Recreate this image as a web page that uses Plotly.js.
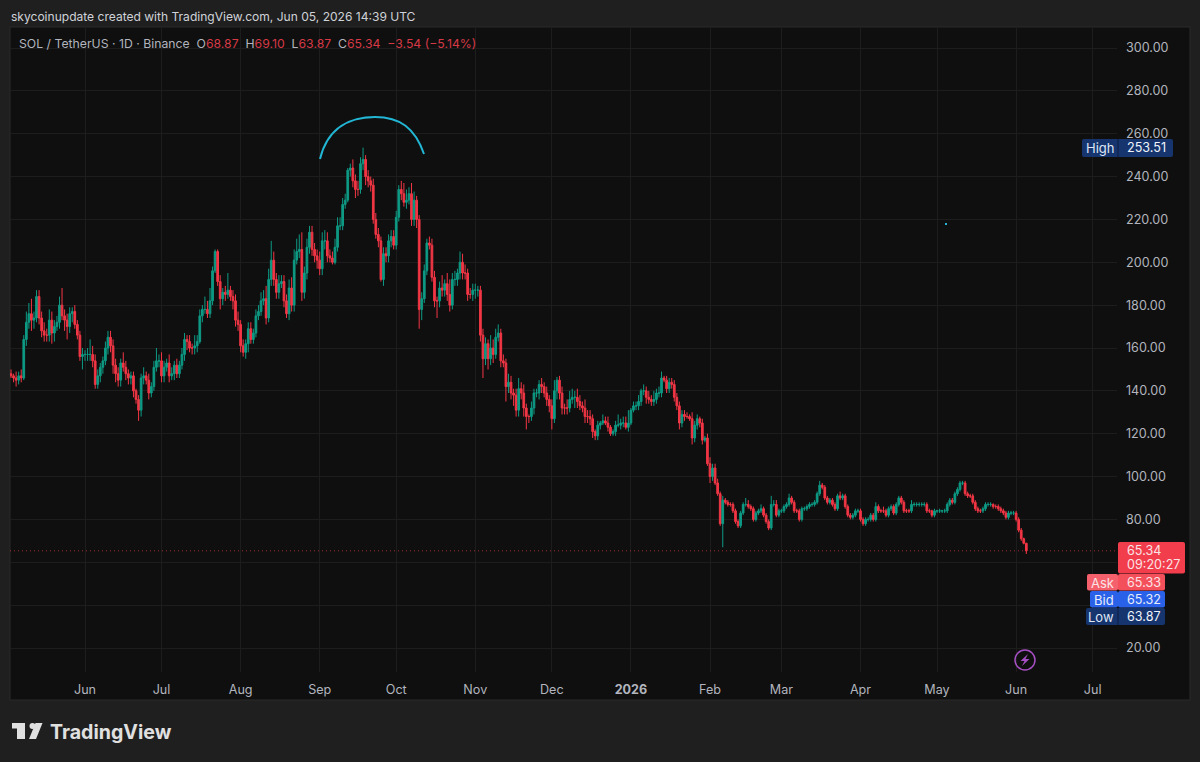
<!DOCTYPE html>
<html><head><meta charset="utf-8">
<script src="https://cdn.plot.ly/plotly-3.0.1.min.js"></script>
<style>html,body{margin:0;padding:0;background:#1f1f1f}#c{width:1200px;height:762px}</style>
</head><body><div id="c"></div>
<script>
const firstDay = "2025-05-03";
const closes = [
147,146,145,147,146,164,172,176,173,174, 184,174,168,166,166,173,167,170,172,180,
175,173,170,176,177,171,166,156,157,157, 157,157,154,143,147,151,154,160,165,161,
152,148,145,153,151,148,146,147,140,136, 131,146,147,145,139,142,151,154,154,147,
151,153,147,148,152,148,152,157,164,163, 160,160,161,163,175,178,178,176,182,196,
205,191,183,186,185,187,184,182,173,171, 161,158,162,169,164,167,175,177,182,183,
174,192,201,192,186,190,191,182,176,188, 180,201,205,206,186,195,207,214,206,203,
201,197,210,210,203,202,200,207,217,217, 227,229,243,244,238,234,234,246,248,240,
238,236,220,213,210,192,204,203,210,212, 208,221,234,232,228,229,232,220,229,220,
178,183,196,209,208,193,182,182,188,187, 190,185,180,192,192,195,200,195,195,185,
185,187,187,187,166,155,162,155,160,157, 165,167,154,153,142,144,139,138,131,141,
139,132,128,128,132,139,139,143,142,139, 136,133,127,140,145,139,132,132,132,136,
137,137,135,133,132,128,128,127,121,119, 124,125,126,125,123,120,121,124,124,125,
125,123,125,131,133,133,135,140,140,137, 136,135,136,139,139,146,145,141,144,143,
137,133,125,129,128,128,127,118,124,127, 125,117,118,106,100,104,97,92,78,89,
88,87,87,84,79,77,83,87,87,86, 85,80,83,84,85,82,79,76,87,87,
82,84,84,86,87,90,88,84,84,80, 85,85,86,87,87,88,92,96,95,90,
88,89,87,85,91,90,91,86,82,81, 82,84,84,80,78,80,80,82,80,86,
84,84,84,82,85,86,83,87,90,88, 84,84,84,87,87,87,87,87,87,84,
84,82,84,84,84,84,84,87,89,88, 92,94,97,97,92,91,91,88,85,84,
84,85,87,87,87,86,86,85,84,83, 81,83,83,83,80,75,71,68.87,65.34];
const firstOpen = 148;
const wickUp = [
2,1,3,2,3,2,5,5,7,3, 3,3,3,4,3,5,4,3,3,4,
8,3,3,3,2,3,2,2,3,2, 3,7,4,3,3,2,2,3,3,3,
3,3,3,2,5,3,2,2,2,1, 2,2,4,2,3,2,3,6,3,4,
3,2,4,3,2,3,2,3,3,2, 3,2,5,3,3,2,6,4,6,2,
1,1,3,2,3,8,2,3,3,4, 2,3,2,3,3,2,3,3,4,4,
6,5,9,4,3,4,3,3,3,4, 5,5,6,7,8,3,4,3,3,3,
3,4,4,5,4,3,3,4,4,4, 3,3,1,2,4,3,4,3,5.51,2,
3,2,3,3,3,2,3,3,3,3, 3,3,2,4,5,5,3,5,4,2,
2,3,3,2,3,3,3,2,3,6, 2,5,7,3,4,2,5,4,4,2,
3,3,3,2,2,3,3,2,6,4, 4,4,2,3,2,4,3,2,3,5,
3,4,2,1,3,2,2,2,3,2, 3,2,3,5,1.5,2,3,2,4,4,
4,3,4,3,2,4,3,3,2,1, 2,1,3,2,3,1,1,2,5,2,
3,3,6,1,2,2,3,1,3,2, 3,2,4,2,3,3,1,2,2,2,
2,2,2,2,2,2,1,3,2,2, 1,2,1,2,3,2,2,2,1,2,
1,1,1,1,1,1,1,1,3,2, 1,1,1,1,2,1,1,1,4,2,
2,1,1,1,1,2,1,1,1,1, 1,1,1,1,1,1,1,2,1,1,
1,1,1,1,1,2,1,1,1,1, 1,1,1,1,1,1,1,1,1,2,
1,1,2,1,1,1,1,1,1,1, 1,1,1,2,1,1,1,1,1,1,
1,0.5,1,0.5,1,0.5,1,1,1,1, 1,1,1,1,1,1,1,1,1,1,
1,1,1,1,1,0.5,1,1,1,1, 1,1,1,1,1,1,1,0.5,0.23];
const wickDown = [
1,2,3,2,2,1,3,3,5,4, 2,3,3,3,3,3,5,4,2,3,
2,5,6,3,4,2,2,2,6,3, 3,3,3,2,2,3,3,2,3,3,
4,4,3,3,2,3,3,3,3,2, 5,3,3,2,3,2,2,2,3,3,
3,2,3,2,3,2,2,2,3,4, 2,3,3,3,1,3,2,2,2,2,
1,2,5,3,3,2,2,4,3,3, 3,2,3,4,2,2,2,2,2,2,
3,2,3,3,3,3,2,3,2,3, 3,3,2,3,4,3,3,3,3,3,
4,3,3,4,3,2,1,1,2,2, 2,2,1,3,3,4,3,2,3,4,
3,3,2,2,3,1,3,3,3,3, 2,2,2,3,2,3,2,3,3,4,
9,5,2,2,2,2,3,8,3,3, 3,3,3,2,3,3,3,3,3,3,
2,3,4,3,3,9,3,5,3,4, 2,2,3,2,7,3,3,5,3,3,
3,4,6,3,2,3,2,3,3,2, 3,3,5,2,4,3,3,3,3,2,
2,5,3,2,2,3,3,3,3,2, 2,2,1,1,2,1,1,2,1,2,
2,1,2,1,1,2,2,2,2,3, 2,2,2,2,2,2,1,2,2,2,
2,2,3,2,2,1,1,3,2,2, 2,2,1,1,3,2,1,1,1,11,
1,1,1,1,1,1,1,1,1,1, 1,1,1,1,1,1,1,1,1,1,
1,1,1,1,1,1,1,1,1,1, 1,1,1,1,1,1,1,1,1,1,
1,1,1,1,1,1,1,1,1,1, 1,1,1,1,1,1,1,1,1,1,
1,1,1,1,1,1,1,1,1,1, 1,1,1,1,1,1,1,1,1,1,
1,1,1,1,1,1,1,1,1,1, 1,1,1,1,1,1,1,1,1,1,
1,1,1,1,1,1,1,1,1,1, 1,1,1,1,1,1,1,0.5,1.47];
const priceTicks = [20,40,60,80,100,120,140,160,180,200,220,240,260,280,300];
const hiddenPriceTicks = [40,60];
const monthTicks = ["2025-06-01","2025-07-01","2025-08-01","2025-09-01","2025-10-01","2025-11-01","2025-12-01","2026-01-01","2026-02-01","2026-03-01","2026-04-01","2026-05-01","2026-06-01","2026-07-01"];
const monthLabels = ["Jun","Jul","Aug","Sep","Oct","Nov","Dec","<b>2026</b>","Feb","Mar","Apr","May","Jun","Jul"];

const dates = closes.map((_, i) => new Date(Date.parse(firstDay + "T00:00:00Z") + i * 864e5).toISOString().slice(0, 10));
const opens = closes.map((c, i) => i === 0 ? firstOpen : closes[i - 1]);
const highs = closes.map((c, i) => Math.max(c, opens[i]) + wickUp[i]);
const lows = closes.map((c, i) => Math.min(c, opens[i]) - wickDown[i]);

const W = 1200, H = 762, L = 10, R = 1117, T = 27, B = 672;
const px = x => (x - L) / (R - L);
const py = y => (B - y) / (B - T);
const path = (segs) => segs.map(s => s[0] + " " + s.slice(1).reduce((a, v, i) => a.concat(i % 2 ? py(v) : px(v)), []).join(" ")).join(" ");
const rrect = (x0, y0, x1, y1, r) => path([["M", x0 + r, y0], ["L", x1 - r, y0], ["Q", x1, y0, x1, y0 + r], ["L", x1, y1 - r], ["Q", x1, y1, x1 - r, y1], ["L", x0 + r, y1], ["Q", x0, y1, x0, y1 - r], ["L", x0, y0 + r], ["Q", x0, y0, x0 + r, y0]]) + " Z";
const box = (x0, y0, x1, y1, fill, r = 2) => ({ type: "path", xref: "paper", yref: "paper", path: rrect(x0, y0, x1, y1, r), fillcolor: fill, line: { width: 0 }, layer: "above" });
const text = (x, y, t, size, color, anchor = "left") => ({ xref: "paper", yref: "paper", x: px(x), y: py(y), text: t, showarrow: false, xanchor: anchor, yanchor: "middle", font: { family: "Inter, 'Noto Sans', sans-serif", size, color }, borderpad: 0 });

const RED = "#f23645", GREEN = "#0e9a84", LBL = "#b2b5be", NAVY = "#16356f";
const dim = "#d63a47";

const shapes = [
  { type: "rect", xref: "paper", yref: "paper", x0: px(10), x1: px(1190), y0: py(700), y1: py(27), fillcolor: "#0f0f0f", line: { color: "#2a2a2a", width: 1 }, layer: "below" },
  { type: "line", xref: "paper", yref: "y", x0: 0, x1: 1, y0: 65.34, y1: 65.34, line: { color: "rgba(242,54,69,0.65)", width: 1, dash: "1px,3px" }, layer: "above" },
  { type: "path", xref: "paper", yref: "paper", path: path([["M", 320, 159], ["C", 328, 126, 352, 117, 375, 117], ["C", 400, 117, 415, 128, 424, 154]]), line: { color: "#22b6d4", width: 2 }, layer: "above" },
  { type: "rect", xref: "paper", yref: "paper", x0: px(945), x1: px(947), y0: py(225), y1: py(223), fillcolor: "#22b6d4", line: { width: 0 }, layer: "above" },
  { type: "circle", xref: "paper", yref: "paper", x0: px(1015), x1: px(1035), y0: py(670), y1: py(650), fillcolor: "rgba(0,0,0,0)", line: { color: "#a64fc4", width: 1.5 }, layer: "above" },
  { type: "path", xref: "paper", yref: "paper", path: path([["M", 1028, 654], ["L", 1020.5, 661], ["L", 1024.5, 661], ["L", 1022, 666], ["L", 1029.5, 659], ["L", 1025.5, 659]]) + " Z", fillcolor: "#a64fc4", line: { width: 0 }, layer: "above" },
  box(1082, 139, 1173, 157, NAVY),
  { type: "line", xref: "paper", yref: "paper", x0: px(1118), x1: px(1118), y0: py(139), y1: py(157), line: { color: "#0f1f40", width: 1 }, layer: "above" },
  box(1118, 542, 1185, 573.5, "#f23d4c"),
  box(1087, 574, 1118, 590.5, "#f4606b"),
  box(1118, 574, 1165, 590.5, "#f4505c"),
  box(1090, 591, 1118, 607.5, "#2962e8"),
  box(1118, 591, 1165, 607.5, "#2962e8"),
  box(1086, 608, 1165, 625, NAVY),
  { type: "line", xref: "paper", yref: "paper", x0: px(1118), x1: px(1118), y0: py(608), y1: py(625), line: { color: "#0f1f40", width: 1 }, layer: "above" },
  { type: "path", xref: "paper", yref: "paper", path: path([["M", 12, 723], ["L", 25, 723], ["L", 25, 739], ["L", 17, 739], ["L", 17, 728.5], ["L", 12, 728.5]]) + " Z", fillcolor: "#e0e0e0", line: { width: 0 }, layer: "above" },
  { type: "circle", xref: "paper", yref: "paper", x0: px(29.5), x1: px(35.5), y0: py(729), y1: py(723), fillcolor: "#e0e0e0", line: { width: 0 }, layer: "above" },
  { type: "path", xref: "paper", yref: "paper", path: path([["M", 35.5, 723], ["L", 42.5, 723], ["L", 36, 739], ["L", 29, 739]]) + " Z", fillcolor: "#e0e0e0", line: { width: 0 }, layer: "above" }
];

const annotations = [
  text(10, 16, "skycoinupdate created with TradingView.com, Jun 05, 2026 14:39 UTC", 12.05, "#cfd2d8"),
  text(18, 44, `SOL / TetherUS · 1D · Binance  O<span style="color:${dim}">68.87</span>  H<span style="color:${dim}">69.10</span>  L<span style="color:${dim}">63.87</span>  C<span style="color:${dim}">65.34</span>  <span style="color:${dim}">−3.54 (−5.14%)</span>`, 12.25, LBL),
  text(1100, 147.5, "High", 13, "#dfe6f5", "center"),
  text(1126, 147.5, "253.51", 12.6, "#f0f3fa"),
  text(1126, 550, "65.34", 12.6, "#fbe3e5"),
  text(1126, 564, "09:20:27", 12.6, "#fbe3e5"),
  text(1102, 582.5, "Ask", 13, "#fbe3e5", "center"),
  text(1126, 582.5, "65.33", 12.6, "#fbe3e5"),
  text(1104, 599.5, "Bid", 13, "#e6ecfb", "center"),
  text(1126, 599.5, "65.32", 12.6, "#e6ecfb"),
  text(1101, 616.5, "Low", 13, "#dfe6f5", "center"),
  text(1126, 616.5, "63.87", 12.6, "#f0f3fa"),
  text(49, 731.5, "<b>TradingView</b>", 19.6, "#e0e0e0")
];

const trace = {
  type: "candlestick", x: dates, open: opens, high: highs, low: lows, close: closes,
  increasing: { line: { color: GREEN, width: 1 }, fillcolor: GREEN },
  decreasing: { line: { color: RED, width: 1 }, fillcolor: RED },
  whiskerwidth: 0, hoverinfo: "skip", showlegend: false
};

const yb = 20 + (648 - B) * 280 / 600, yt = 20 + (648 - T) * 280 / 600;
const x0ms = Date.parse("2025-06-01T00:00:00Z");
const iso = d => new Date(x0ms + d * 864e5).toISOString();

Plotly.newPlot("c", [trace], {
  width: W, height: H,
  margin: { l: L, r: W - R, t: T, b: H - B, pad: 0 },
  paper_bgcolor: "#1f1f1f", plot_bgcolor: "#0f0f0f",
  showlegend: false, dragmode: false, boxgap: 0.05,
  font: { family: "Inter, 'Noto Sans', sans-serif", color: LBL, size: 13 },
  xaxis: {
    type: "date", range: [iso((L - 85) / 2.551), iso((R - 85) / 2.551)],
    rangeslider: { visible: false }, tickmode: "array", tickvals: monthTicks, ticktext: monthLabels,
    showgrid: true, gridcolor: "#1d1d1d", gridwidth: 1, zeroline: false, showline: false,
    ticks: "", ticklabelstandoff: 8, tickfont: { size: 12.6, color: LBL }
  },
  yaxis: {
    side: "right", range: [yb, yt], tickmode: "array", tickvals: priceTicks,
    ticktext: priceTicks.map(v => hiddenPriceTicks.includes(v) ? "" : v.toFixed(2)),
    showgrid: true, gridcolor: "#1d1d1d", gridwidth: 1, zeroline: false, showline: false,
    ticks: "", ticklabelstandoff: 8, tickfont: { size: 12.6, color: LBL }
  },
  shapes, annotations
}, { displayModeBar: false, staticPlot: true });
</script></body></html>
